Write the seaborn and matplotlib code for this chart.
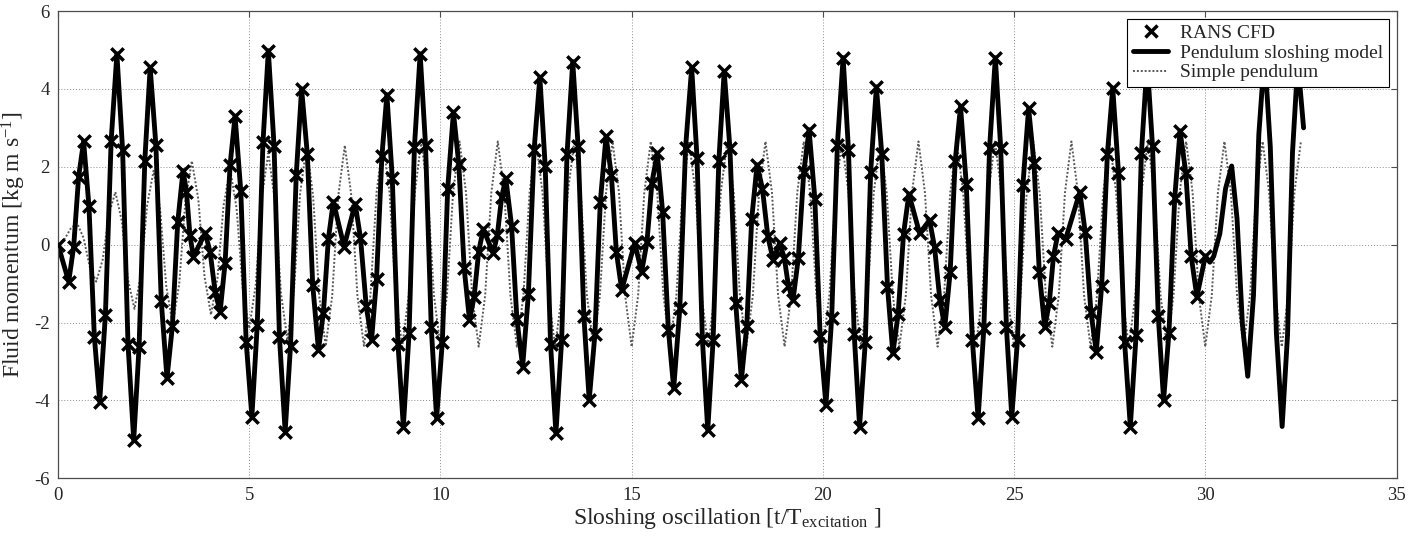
import pandas as pd
import matplotlib
matplotlib.use('Agg')
import matplotlib.pyplot as plt
from matplotlib.lines import Line2D
import seaborn as sns

# Pendulum sloshing model (turning points plus two points on each big swing)
model_t = [0.00, 0.28, 0.41, 0.54, 0.67, 0.81, 0.95, 1.09, 1.24, 1.39, 1.54, 1.69, 1.83, 1.98,
           2.12, 2.27, 2.41, 2.56, 2.70, 2.85, 2.99, 3.13, 3.27, 3.36, 3.45, 3.54, 3.85, 3.98,
           4.11, 4.24, 4.37, 4.50, 4.63, 4.78, 4.92, 5.07, 5.21, 5.36, 5.50, 5.65, 5.79, 5.94,
           6.08, 6.23, 6.37, 6.52, 6.66, 6.81, 6.94, 7.07, 7.20, 7.48, 7.77, 7.91, 8.06, 8.20,
           8.33, 8.47, 8.60, 8.74, 8.89, 9.03, 9.18, 9.32, 9.47, 9.61, 9.76, 9.90, 10.05, 10.19,
           10.34, 10.48, 10.62, 10.76, 10.88, 11.00, 11.12, 11.38, 11.49, 11.60, 11.71, 11.86,
           12.00, 12.15, 12.30, 12.45, 12.60, 12.74, 12.88, 13.02, 13.17, 13.31, 13.46, 13.60,
           13.75, 13.89, 14.04, 14.18, 14.33, 14.47, 14.60, 14.74, 15.08, 15.26, 15.40, 15.53,
           15.67, 15.81, 15.96, 16.10, 16.26, 16.41, 16.57, 16.71, 16.85, 16.99, 17.13, 17.28,
           17.42, 17.57, 17.72, 17.87, 18.01, 18.14, 18.28, 18.42, 18.56, 18.70, 18.87, 18.99,
           19.10, 19.22, 19.36, 19.50, 19.64, 19.79, 19.93, 20.08, 20.23, 20.38, 20.53, 20.67,
           20.82, 20.96, 21.11, 21.25, 21.40, 21.54, 21.69, 21.83, 21.97, 22.11, 22.25, 22.53,
           22.79, 22.92, 23.06, 23.19, 23.33, 23.46, 23.60, 23.75, 23.91, 24.06, 24.21, 24.36,
           24.51, 24.65, 24.80, 24.94, 25.09, 25.23, 25.38, 25.52, 25.66, 25.80, 25.92, 26.03,
           26.15, 26.35, 26.72, 26.86, 27.01, 27.15, 27.29, 27.44, 27.58, 27.73, 27.89, 28.04,
           28.19, 28.33, 28.48, 28.62, 28.77, 28.91, 29.05, 29.20, 29.34, 29.49, 29.63, 29.78,
           30.00, 30.12, 30.22, 30.38, 30.53, 30.69, 30.83, 30.97, 31.11, 31.26, 31.40, 31.55,
           31.70, 31.86, 32.01, 32.15, 32.28, 32.42, 32.57]
model_v = [0.00, -0.95, -0.05, 1.75, 2.65, 0.98, -2.36, -4.03, -1.80, 2.67, 4.90, 2.42, -2.54, -5.02,
           -2.63, 2.16, 4.55, 2.55, -1.44, -3.43, -2.10, 0.57, 1.90, 1.35, 0.24, -0.31, 0.30, -0.20,
           -1.22, -1.72, -0.46, 2.05, 3.30, 1.37, -2.49, -4.42, -2.07, 2.63, 4.98, 2.53, -2.36, -4.80,
           -2.60, 1.80, 4.00, 2.32, -1.03, -2.70, -1.75, 0.15, 1.10, -0.05, 1.05, 0.17, -1.58, -2.45,
           -0.87, 2.28, 3.85, 1.72, -2.54, -4.67, -2.28, 2.51, 4.90, 2.56, -2.12, -4.46, -2.49, 1.44,
           3.40, 2.07, -0.60, -1.93, -1.35, -0.18, 0.40, -0.22, 0.26, 1.22, 1.70, 0.49,
           -1.92, -3.13, -1.27, 2.44, 4.30, 2.01, -2.56, -4.84, -2.45, 2.32, 4.70, 2.53,
           -1.82, -3.99, -2.30, 1.09, 2.78, 1.79, -0.18, -1.16, 0.04, -0.70, 0.06, 1.59,
           2.35, 0.84, -2.18, -3.69, -1.63, 2.49, 4.55, 2.22, -2.43, -4.76, -2.46, 2.15,
           4.45, 2.47, -1.49, -3.47, -2.09, 0.67, 2.05, 1.44, 0.22, -0.39, 0.04, -0.33,
           -1.06, -1.42, -0.33, 1.86, 2.95, 1.18, -2.35, -4.12, -1.89, 2.57, 4.80, 2.43,
           -2.30, -4.67, -2.49, 1.87, 4.05, 2.34, -1.08, -2.79, -1.77, 0.28, 1.30, 0.29,
           0.63, -0.06, -1.43, -2.11, -0.69, 2.14, 3.55, 1.55, -2.46, -4.46, -2.14, 2.49,
           4.80, 2.49, -2.12, -4.42, -2.44, 1.52, 3.50, 2.10, -0.71, -2.11, -1.51, -0.30,
           0.30, 0.15, 1.35, 0.32, -1.73, -2.75, -1.06, 2.33, 4.02, 1.85, -2.50, -4.67,
           -2.33, 2.36, 4.70, 2.53, -1.82, -3.99, -2.26, 1.19, 2.92, 1.85, -0.28, -1.34,
           -0.30, -0.45, -0.30, 0.28, 1.44, 2.02, 0.67, -2.03, -3.38, -1.31, 2.83, 4.90,
           2.51, -2.28, -4.67, -2.33, 2.36, 4.70, 3.00]

# the RANS CFD samples sit on the model trace and stop just after t = 30
cfd_end = 30.0

# Simple pendulum
pend_t = [0.00, 0.17, 0.33, 0.50, 0.67, 0.83,
          1.00, 1.17, 1.33, 1.50, 1.67, 1.83,
          2.00, 2.17, 2.33, 2.50, 2.67, 2.83,
          3.00, 3.17, 3.33, 3.50, 3.67, 3.83,
          4.00, 4.17, 4.33, 4.50, 4.67, 4.83,
          5.00, 5.17, 5.33, 5.50, 5.67, 5.83,
          6.00, 6.17, 6.33, 6.50, 6.67, 6.83,
          7.00, 7.17, 7.33, 7.50, 7.67, 7.83,
          8.00, 8.17, 8.33, 8.50, 8.67, 8.83,
          9.00, 9.17, 9.33, 9.50, 9.67, 9.83,
          10.00, 10.17, 10.33, 10.50, 10.67, 10.83,
          11.00, 11.17, 11.33, 11.50, 11.67, 11.83,
          12.00, 12.17, 12.33, 12.50, 12.67, 12.83,
          13.00, 13.17, 13.33, 13.50, 13.67, 13.83,
          14.00, 14.17, 14.33, 14.50, 14.67, 14.83,
          15.00, 15.17, 15.33, 15.50, 15.67, 15.83,
          16.00, 16.17, 16.33, 16.50, 16.67, 16.83,
          17.00, 17.17, 17.33, 17.50, 17.67, 17.83,
          18.00, 18.17, 18.33, 18.50, 18.67, 18.83,
          19.00, 19.17, 19.33, 19.50, 19.67, 19.83,
          20.00, 20.17, 20.33, 20.50, 20.67, 20.83,
          21.00, 21.17, 21.33, 21.50, 21.67, 21.83,
          22.00, 22.17, 22.33, 22.50, 22.67, 22.83,
          23.00, 23.17, 23.33, 23.50, 23.67, 23.83,
          24.00, 24.17, 24.33, 24.50, 24.67, 24.83,
          25.00, 25.17, 25.33, 25.50, 25.67, 25.83,
          26.00, 26.17, 26.33, 26.50, 26.67, 26.83,
          27.00, 27.17, 27.33, 27.50, 27.67, 27.83,
          28.00, 28.17, 28.33, 28.50, 28.67, 28.83,
          29.00, 29.17, 29.33, 29.50, 29.67, 29.83,
          30.00, 30.17, 30.33, 30.50, 30.67, 30.83,
          31.00, 31.17, 31.33, 31.50, 31.67, 31.83,
          32.00, 32.17, 32.33, 32.50]
pend_v = [0.00, 0.14, 0.41, 0.55, 0.17, -0.57,
          -0.95, -0.38, 0.78, 1.35, 0.60, -0.90,
          -1.65, -0.76, 1.01, 1.90, 0.91, -1.06,
          -2.05, -1.00, 1.10, 2.15, 1.16, -0.81,
          -1.80, -0.86, 1.01, 1.95, 0.93, -1.13,
          -2.15, -1.03, 1.23, 2.35, 1.15, -1.25,
          -2.45, -1.20, 1.30, 2.55, 1.26, -1.31,
          -2.60, -1.31, 1.26, 2.55, 1.26, -1.31,
          -2.60, -1.29, 1.34, 2.65, 1.33, -1.30,
          -2.62, -1.30, 1.33, 2.65, 1.33, -1.30,
          -2.62, -1.30, 1.33, 2.65, 1.33, -1.30,
          -2.62, -1.30, 1.33, 2.65, 1.33, -1.30,
          -2.62, -1.30, 1.33, 2.65, 1.33, -1.30,
          -2.62, -1.30, 1.33, 2.65, 1.33, -1.30,
          -2.62, -1.30, 1.33, 2.65, 1.33, -1.30,
          -2.62, -1.30, 1.33, 2.65, 1.33, -1.30,
          -2.62, -1.30, 1.33, 2.65, 1.33, -1.30,
          -2.62, -1.30, 1.33, 2.65, 1.33, -1.30,
          -2.62, -1.30, 1.33, 2.65, 1.33, -1.30,
          -2.62, -1.30, 1.33, 2.65, 1.33, -1.30,
          -2.62, -1.30, 1.33, 2.65, 1.33, -1.30,
          -2.62, -1.30, 1.33, 2.65, 1.33, -1.30,
          -2.62, -1.30, 1.33, 2.65, 1.33, -1.30,
          -2.62, -1.30, 1.33, 2.65, 1.33, -1.30,
          -2.62, -1.30, 1.33, 2.65, 1.33, -1.30,
          -2.62, -1.30, 1.33, 2.65, 1.33, -1.30,
          -2.62, -1.30, 1.33, 2.65, 1.33, -1.30,
          -2.62, -1.30, 1.33, 2.65, 1.33, -1.30,
          -2.62, -1.30, 1.33, 2.65, 1.33, -1.30,
          -2.62, -1.30, 1.33, 2.65, 1.33, -1.30,
          -2.62, -1.30, 1.33, 2.65, 1.33, -1.30,
          -2.62, -1.30, 1.33, 2.65, 1.33, -1.30,
          -2.62, -1.30, 1.33, 2.65]

x_ticks = [0, 5, 10, 15, 20, 25, 30, 35]
y_ticks = [-6, -4, -2, 0, 2, 4, 6]

model_df = pd.DataFrame({'t': model_t, 'v': model_v})
pend_df = pd.DataFrame({'t': pend_t, 'v': pend_v})
cfd_df = model_df[model_df['t'] <= cfd_end]

sns.set_style('white')
plt.rcParams.update({
    'font.family': ['Liberation Serif', 'DejaVu Serif'],
    'mathtext.fontset': 'custom',
    'mathtext.rm': 'Liberation Serif',
    'mathtext.it': 'Liberation Serif:italic',
    'axes.unicode_minus': False,
    'xtick.direction': 'in',
    'ytick.direction': 'in',
    'xtick.top': True,
    'ytick.right': True,
})

fig, ax = plt.subplots(figsize=(14.25, 5.42), dpi=100)
fig.subplots_adjust(left=0.0407, right=0.980, top=0.9797, bottom=0.1175)

# Simple pendulum underneath
sns.lineplot(data=pend_df, x='t', y='v', sort=False, estimator=None, ax=ax,
             color='0.35', linewidth=1.4, linestyle=(0, (1, 1)))
# Pendulum sloshing model
sns.lineplot(data=model_df, x='t', y='v', sort=False, estimator=None, ax=ax,
             color='black', linewidth=3.5, solid_joinstyle='round')
# RANS CFD markers
sns.scatterplot(data=cfd_df, x='t', y='v', ax=ax, marker='x', color='black',
                s=80, linewidth=2.5, zorder=4)

ax.set_xlim(0, 35)
ax.set_ylim(-6, 6)
ax.set_xticks(x_ticks)
ax.set_yticks(y_ticks)
ax.tick_params(labelsize=13.5, length=4, width=0.8, color='0.3', pad=6)
ax.grid(True, color='0.55', linestyle=(0, (1, 2)), linewidth=0.7)
for sp in ax.spines.values():
    sp.set_color('0.3')
    sp.set_linewidth(0.9)

ax.set_xlabel('Sloshing oscillation [t/T$_{\\mathrm{excitation}}$ ]', fontsize=17, labelpad=2)
ax.set_ylabel('Fluid momentum [kg m s$^{\\mathrm{-1}}$]', fontsize=17, labelpad=4)

handles = [
    Line2D([], [], marker='x', color='black', linestyle='none', markersize=8, markeredgewidth=2.5),
    Line2D([], [], color='black', linewidth=3.5),
    Line2D([], [], color='0.35', linewidth=1.4, linestyle=(0, (1, 1))),
]
labels = ['RANS CFD', 'Pendulum sloshing model', 'Simple pendulum']
leg = ax.legend(handles, labels, loc='upper right', fontsize=14, frameon=True,
                fancybox=False, framealpha=1, edgecolor='black', borderaxespad=0.4,
                handlelength=1.8, handletextpad=0.6, borderpad=0.3, labelspacing=0.1)
leg.get_frame().set_linewidth(0.8)
leg.set_zorder(10)

fig.savefig('out.png', dpi=100)
